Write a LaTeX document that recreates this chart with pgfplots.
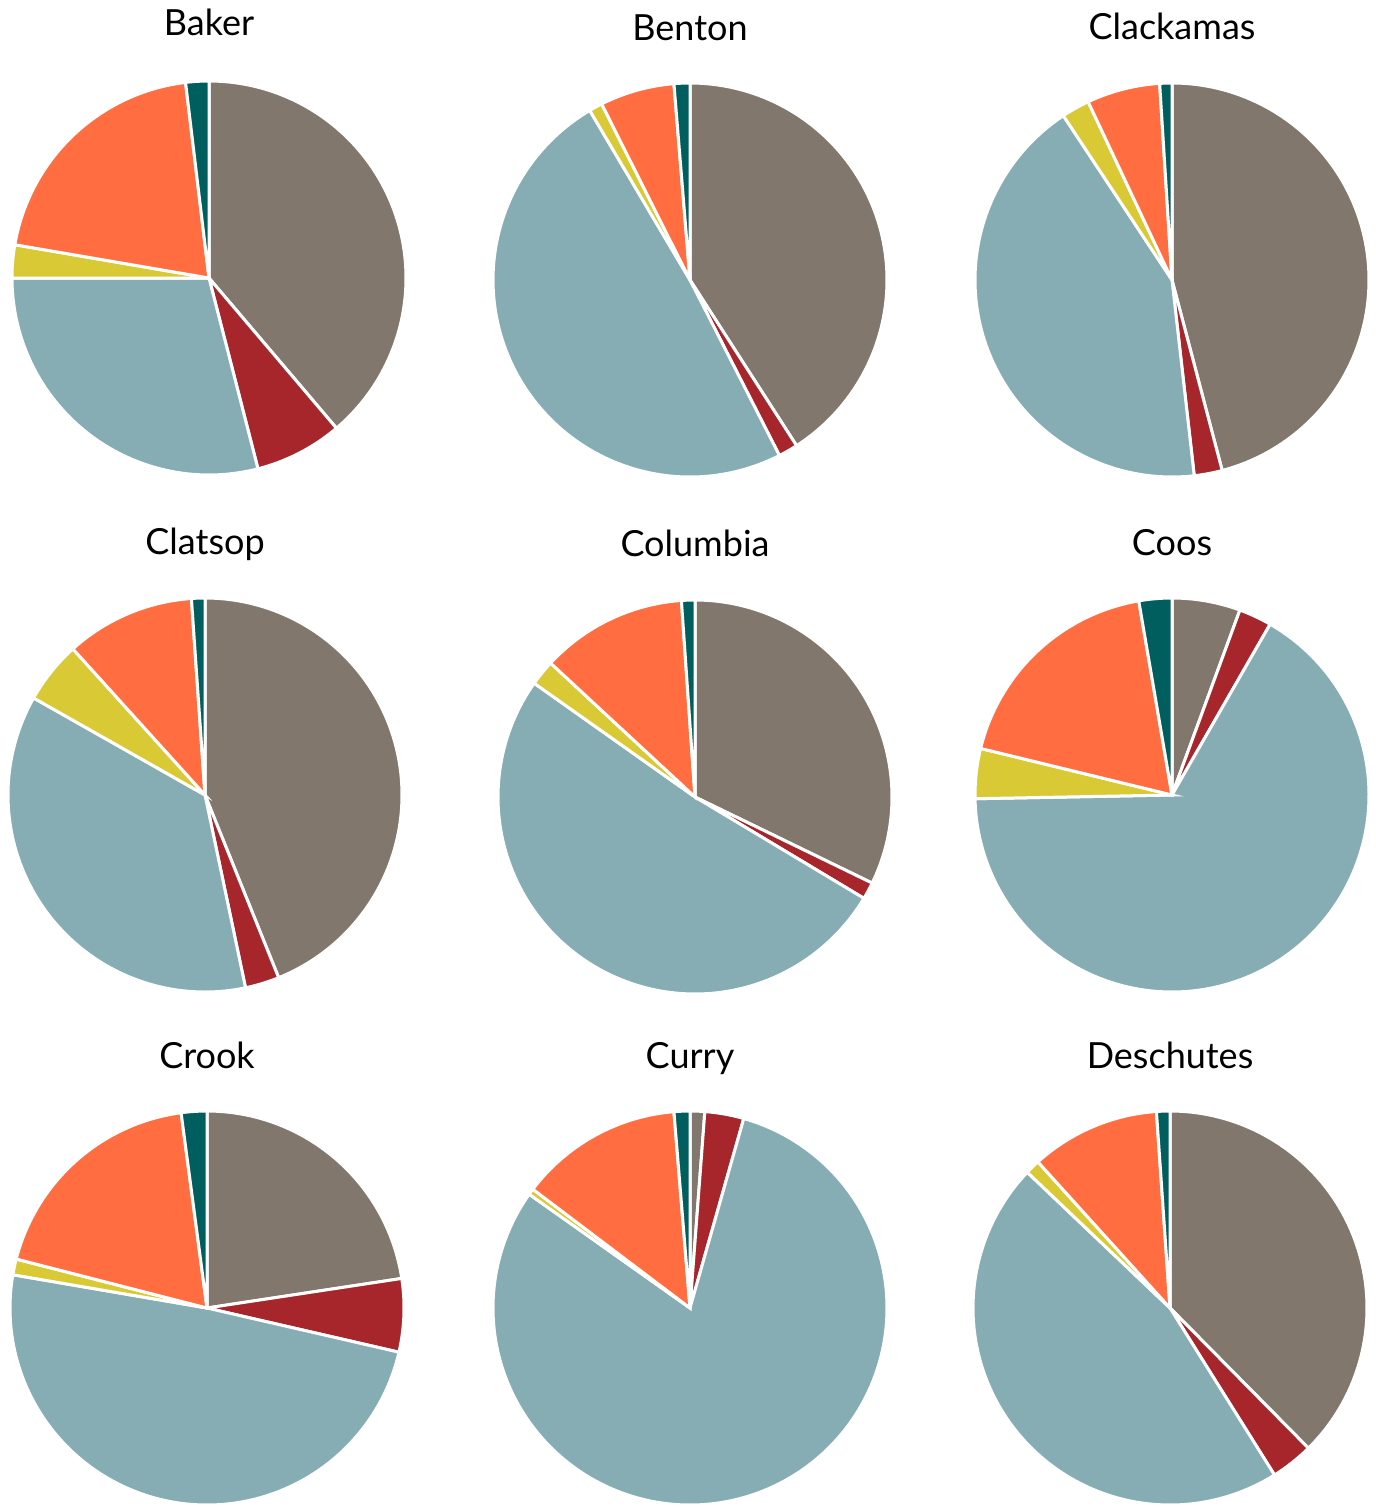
\documentclass[border=0pt]{standalone}
\usepackage{pgfplots}
\pgfplotsset{compat=1.18}
\usepackage{pgfplotstable}
\usepackage{fontspec}
\setmainfont{Lato}
\definecolor{cgrey}{HTML}{81776D}
\definecolor{cred}{HTML}{A6262C}
\definecolor{cblue}{HTML}{85ADB3}
\definecolor{cyellow}{HTML}{D9C934}
\definecolor{corange}{HTML}{FF6D40}
\definecolor{cteal}{HTML}{005F5E}

\pgfplotstableread{
name cx cy ty grey red blue yellow orange teal
Baker 104.5 -139 17 38.8 7.2 29.0 2.7 20.4 1.9
Benton 345 -140 15.5 40.9 1.6 49.0 1.1 6.1 1.3
Clackamas 586 -140 16 45.9 2.3 42.5 2.3 6.0 1.0
Clatsop 102.5 -397.5 16 43.9 2.8 36.5 5.1 10.6 1.1
Columbia 347.5 -398.5 16 32.2 1.4 51.2 2.1 12.0 1.1
Coos 586 -397.5 15.5 5.6 2.7 66.4 4.1 18.5 2.7
Crook 103.5 -654 15.5 22.6 6.0 49.1 1.3 18.9 2.1
Curry 345 -654 15.5 1.2 3.2 80.4 0.5 13.4 1.3
Deschutes 585 -654 15.5 37.6 3.5 46.0 1.2 10.6 1.1
}\piedata

\newcommand\drawslice[3]{%
  \pgfmathsetmacro\nsamp{int(max(3,(#2-#1)/1.5+2))}%
  \edef\tmp{\noexpand\addplot[fill=#3, draw=white, line width=1.5bp, domain=#1:#2, samples=\nsamp, variable=\noexpand\t] ({sin(\noexpand\t)},{cos(\noexpand\t)}) -- (axis cs:0,0) -- cycle;}%
  \tmp}

\begin{document}
\begin{tikzpicture}
\useasboundingbox (0,0) rectangle (688bp,-753.5bp);
\foreach \r in {0,...,8}{
  \pgfplotstablegetelem{\r}{name}\of\piedata \edef\nm{\pgfplotsretval}
  \pgfplotstablegetelem{\r}{cx}\of\piedata \edef\cx{\pgfplotsretval}
  \pgfplotstablegetelem{\r}{cy}\of\piedata \edef\cy{\pgfplotsretval}
  \pgfplotstablegetelem{\r}{ty}\of\piedata \edef\ty{\pgfplotsretval}
  \pgfplotstablegetelem{\r}{grey}\of\piedata \edef\vA{\pgfplotsretval}
  \pgfplotstablegetelem{\r}{red}\of\piedata \edef\vB{\pgfplotsretval}
  \pgfplotstablegetelem{\r}{blue}\of\piedata \edef\vC{\pgfplotsretval}
  \pgfplotstablegetelem{\r}{yellow}\of\piedata \edef\vD{\pgfplotsretval}
  \pgfplotstablegetelem{\r}{orange}\of\piedata \edef\vE{\pgfplotsretval}
  \pgfplotstablegetelem{\r}{teal}\of\piedata \edef\vF{\pgfplotsretval}
  \pgfmathsetmacro\tot{\vA+\vB+\vC+\vD+\vE+\vF}
  \pgfmathsetmacro\aA{0}
  \pgfmathsetmacro\aB{\vA/\tot*360}
  \pgfmathsetmacro\aC{(\vA+\vB)/\tot*360}
  \pgfmathsetmacro\aD{(\vA+\vB+\vC)/\tot*360}
  \pgfmathsetmacro\aE{(\vA+\vB+\vC+\vD)/\tot*360}
  \pgfmathsetmacro\aF{(\vA+\vB+\vC+\vD+\vE)/\tot*360}
  \pgfmathsetmacro\aG{360}
  \begin{axis}[at={(\cx bp,\cy bp)}, anchor=center, width=197bp, height=197bp,
    scale only axis, xmin=-1, xmax=1, ymin=-1, ymax=1, hide axis, clip=false,
    title=\nm, title style={at={(0.5,1)}, anchor=base, yshift=\ty bp, font=\fontsize{18bp}{20bp}\selectfont}]
    \drawslice{\aA}{\aB}{cgrey}
    \drawslice{\aB}{\aC}{cred}
    \drawslice{\aC}{\aD}{cblue}
    \drawslice{\aD}{\aE}{cyellow}
    \drawslice{\aE}{\aF}{corange}
    \drawslice{\aF}{\aG}{cteal}
  \end{axis}
}
\end{tikzpicture}
\end{document}
